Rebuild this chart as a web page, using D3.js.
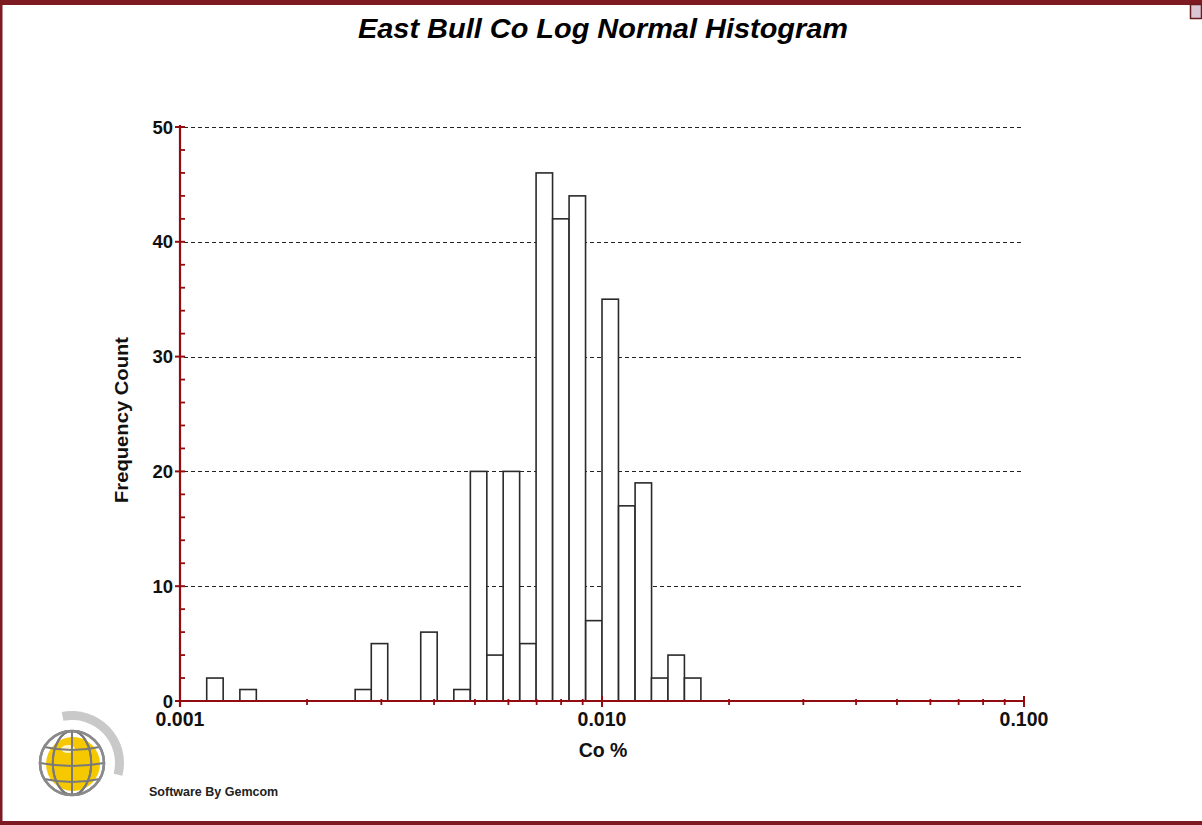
<!DOCTYPE html>
<html>
<head>
<meta charset="utf-8">
<script src="https://cdn.jsdelivr.net/npm/d3@7/dist/d3.min.js"></script>
<style>
  html, body { margin: 0; padding: 0; background: #fff; }
  svg { display: block; }
  text { font-family: "Liberation Sans", Arial, sans-serif; }
</style>
</head>
<body>
<svg id="chart" width="1202" height="825"></svg>
<script>
// Log-normal histogram of Co % (bin centres in Co %, one count per bin)
const binCentres = [0.00121, 0.00145, 0.00272, 0.00297, 0.00389, 0.00466, 0.00510, 0.00558,
                    0.00610, 0.00668, 0.00730, 0.00799, 0.00874, 0.00957, 0.01046, 0.01145,
                    0.01253, 0.01370, 0.01499, 0.01640];
const counts = [2, 1, 1, 5, 6, 1, 20, 4, 20, 5, 46, 42, 44, 7, 35, 17, 19, 2, 4, 2];
const binWidthLog10 = 0.039;            // bin width in log10 units
const xTickValues = [0.001, 0.01, 0.1];
const xTickLabels = ["0.001", "0.010", "0.100"];
const yTickValues = [0, 10, 20, 30, 40, 50];

const title = "East Bull Co Log Normal Histogram";
const xTitle = "Co %";
const yTitle = "Frequency Count";
const credit = "Software By Gemcom";

(function draw() {
  const svg = d3.select("#chart");
  const W = 1202, H = 825;
  const axisRed = "#930d10";
  const frameRed = "#7d1a22";

  const pl = 180, pr = 1024, pt = 127, pb = 701;

  const x = d3.scaleLog().domain([0.001, 0.1]).range([pl, pr]);
  const y = d3.scaleLinear().domain([0, 50]).range([pb, pt]);

  // outer frame
  svg.append("rect").attr("x", 0).attr("y", 0).attr("width", W).attr("height", 5).attr("fill", frameRed);
  svg.append("rect").attr("x", 0).attr("y", 0).attr("width", 2.5).attr("height", H).attr("fill", frameRed);
  svg.append("rect").attr("x", 0).attr("y", 821).attr("width", W).attr("height", 4).attr("fill", frameRed);
  svg.append("rect").attr("x", 1190.5).attr("y", 4.5).attr("width", 11).attr("height", 14)
     .attr("fill", "#d9c8d4").attr("stroke", "#6b1a1f").attr("stroke-width", 1.5);

  // title
  svg.append("text").attr("x", 603).attr("y", 38).attr("text-anchor", "middle")
     .attr("font-size", 28).attr("font-weight", "bold").attr("font-style", "italic")
     .attr("textLength", 490).attr("lengthAdjust", "spacingAndGlyphs")
     .text(title);

  // horizontal dashed gridlines
  svg.append("g").selectAll("line").data(yTickValues.filter(v => v > 0)).join("line")
     .attr("x1", pl + 4).attr("x2", pr)
     .attr("y1", d => Math.round(y(d)) + 0.5).attr("y2", d => Math.round(y(d)) + 0.5)
     .attr("stroke", "#222").attr("stroke-width", 1.2).attr("stroke-dasharray", "4,3");

  // histogram bars
  const half = Math.pow(10, binWidthLog10 / 2);
  svg.append("g").selectAll("rect").data(binCentres.map((c, i) => ({c, n: counts[i]}))).join("rect")
     .attr("x", d => x(d.c / half))
     .attr("width", d => x(d.c * half) - x(d.c / half))
     .attr("y", d => y(d.n))
     .attr("height", d => y(0) - y(d.n))
     .attr("fill", "#fff").attr("stroke", "#2a2a2a").attr("stroke-width", 1.6);

  // y axis
  const yg = svg.append("g");
  yg.append("line").attr("x1", pl).attr("x2", pl).attr("y1", pt - 2).attr("y2", pb + 6)
    .attr("stroke", axisRed).attr("stroke-width", 2.2);
  const yMinor = d3.range(0, 51, 2).filter(v => v % 10 !== 0);
  yg.selectAll(".ymin").data(yMinor).join("line").attr("class", "ymin")
    .attr("x1", pl).attr("x2", pl + 5).attr("y1", d => y(d)).attr("y2", d => y(d))
    .attr("stroke", axisRed).attr("stroke-width", 1.8);
  yg.selectAll(".ymaj").data(yTickValues).join("line").attr("class", "ymaj")
    .attr("x1", pl - 5).attr("x2", pl + 5).attr("y1", d => y(d)).attr("y2", d => y(d))
    .attr("stroke", axisRed).attr("stroke-width", 2);
  yg.selectAll("text").data(yTickValues).join("text")
    .attr("x", pl - 7).attr("y", d => y(d) + 6.5).attr("text-anchor", "end")
    .attr("font-size", 18.5).attr("font-weight", "bold").attr("fill", "#111")
    .text(d => d);

  // x axis
  const xg = svg.append("g");
  xg.append("line").attr("x1", pl).attr("x2", pr).attr("y1", pb).attr("y2", pb)
    .attr("stroke", axisRed).attr("stroke-width", 2.2);
  const xMinor = [];
  [0.001, 0.01].forEach(dec => { for (let k = 2; k <= 9; k++) xMinor.push(dec * k); });
  xg.selectAll(".xmin").data(xMinor).join("line").attr("class", "xmin")
    .attr("x1", d => x(d)).attr("x2", d => x(d)).attr("y1", pb - 2).attr("y2", pb + 4)
    .attr("stroke", axisRed).attr("stroke-width", 1.8);
  xg.selectAll(".xmaj").data(xTickValues).join("line").attr("class", "xmaj")
    .attr("x1", d => x(d)).attr("x2", d => x(d)).attr("y1", pb - 5).attr("y2", pb + 6)
    .attr("stroke", axisRed).attr("stroke-width", 2);
  xg.selectAll("text").data(xTickValues).join("text")
    .attr("x", d => x(d)).attr("y", pb + 25).attr("text-anchor", "middle")
    .attr("font-size", 19.5).attr("font-weight", "bold").attr("fill", "#111")
    .text((d, i) => xTickLabels[i]);

  // axis titles
  svg.append("text").attr("x", 603).attr("y", 757).attr("text-anchor", "middle")
     .attr("font-size", 19.5).attr("font-weight", "bold").attr("fill", "#111").text(xTitle);
  svg.append("text").attr("transform", "translate(128,420) rotate(-90)").attr("text-anchor", "middle")
     .attr("font-size", 19).attr("font-weight", "bold").attr("fill", "#111")
     .attr("textLength", 166).attr("lengthAdjust", "spacingAndGlyphs").text(yTitle);

  // Gemcom globe logo
  const logo = svg.append("g").attr("transform", "translate(72,763)");
  const arc = d3.arc().innerRadius(43).outerRadius(52)
    .startAngle(-0.2).endAngle(Math.PI / 2 + 0.25);
  logo.append("path").attr("d", arc()).attr("fill", "#c9c9c9");
  const R = 32;
  logo.append("circle").attr("r", R).attr("fill", "#fff").attr("stroke", "#8a8a8a").attr("stroke-width", 2.5);
  logo.append("circle").attr("r", R - 5).attr("cx", 1).attr("cy", 1).attr("fill", "#f6c800");
  logo.append("ellipse").attr("rx", 7).attr("ry", 4).attr("cx", -4).attr("cy", -14).attr("fill", "#fff8d8").attr("opacity", 0.9);
  const grid = logo.append("g").attr("fill", "none").attr("stroke", "#7a7a7a").attr("stroke-width", 2);
  [-0.6, 0.6].forEach(f => {
    grid.append("ellipse").attr("rx", Math.abs(f) * R).attr("ry", R).attr("cx", 0);
  });
  grid.append("line").attr("x1", 0).attr("x2", 0).attr("y1", -R).attr("y2", R);
  [-0.5, 0, 0.5].forEach(f => {
    const yy = f * R;
    const hw = Math.sqrt(R * R - yy * yy);
    grid.append("path").attr("d", `M${-hw},${yy} Q0,${yy + 6} ${hw},${yy}`);
  });
  logo.append("circle").attr("r", R).attr("fill", "none").attr("stroke", "#8a8a8a").attr("stroke-width", 2.5);

  // credit
  svg.append("text").attr("x", 149).attr("y", 796).attr("font-size", 12.5).attr("font-weight", "bold")
     .attr("fill", "#222").text(credit);
})();
</script>
</body>
</html>
